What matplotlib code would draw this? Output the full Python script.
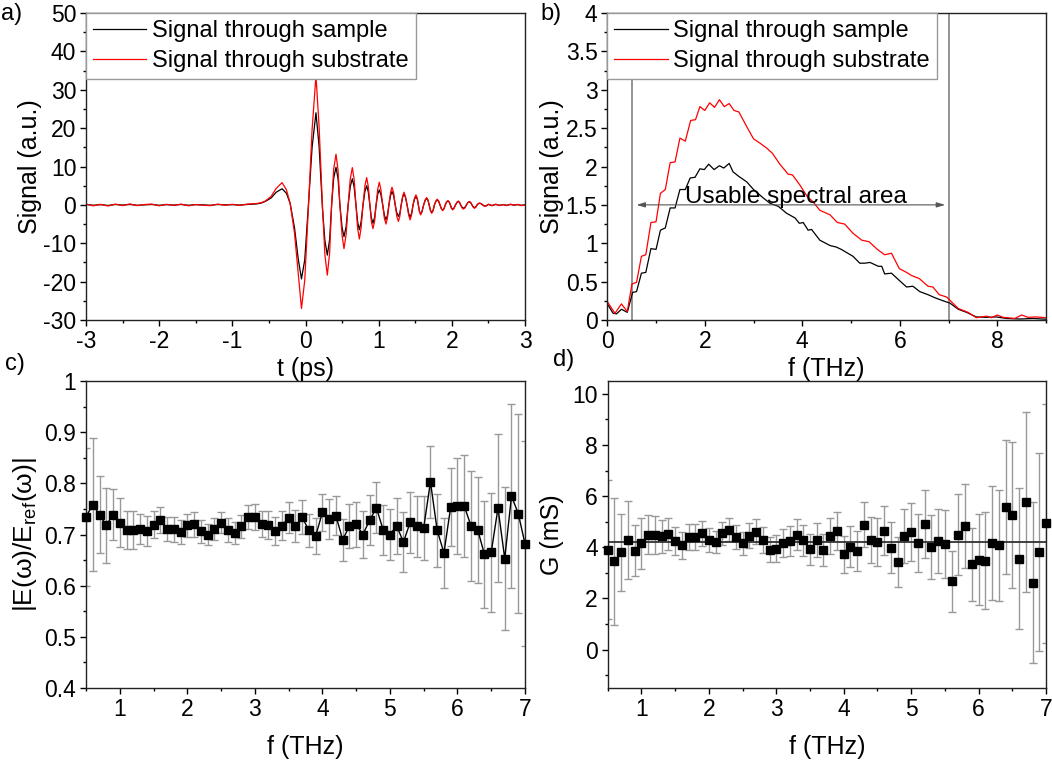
import numpy as np
import matplotlib
matplotlib.use("Agg")
import matplotlib.pyplot as plt
from matplotlib.ticker import MultipleLocator, FuncFormatter

plt.rcParams['font.family'] = ['Liberation Sans', 'DejaVu Sans']
plt.rcParams['mathtext.fontset'] = 'custom'
plt.rcParams['mathtext.rm'] = 'Liberation Sans'
plt.rcParams['mathtext.it'] = 'Liberation Sans:italic'

# ---------------- panel a: time-domain signals ----------------
t_noise_pre = [-3.0, -2.9, -2.8, -2.7, -2.6, -2.5, -2.4, -2.3, -2.2, -2.1, -2.0, -1.9,
               -1.8, -1.7, -1.6, -1.5, -1.4, -1.3, -1.2, -1.1, -1.0, -0.9, -0.8, -0.7, -0.65]
sample_pre = [0.1, -0.1, 0.05, -0.15, 0.1, -0.05, 0.1, -0.1, 0.0, 0.1, -0.1, 0.05,
              -0.05, 0.1, -0.1, 0.05, 0.0, -0.1, 0.1, 0.0, 0.05, -0.05, 0.1, 0.2, 0.3]
substrate_pre = [0.2, -0.25, 0.15, -0.3, 0.2, -0.2, 0.25, -0.2, 0.1, 0.2, -0.25, 0.15,
                 -0.15, 0.2, -0.25, 0.1, -0.1, -0.2, 0.2, -0.1, 0.15, -0.15, 0.2, 0.3, 0.4]

t_pulse = [-0.6, -0.55, -0.47, -0.40, -0.32, -0.26, -0.21, -0.15, -0.10, -0.055, -0.01,
           0.045, 0.09, 0.143, 0.186, 0.232, 0.265, 0.298, 0.33, 0.357, 0.385, 0.417,
           0.445, 0.47, 0.50, 0.526, 0.555, 0.583, 0.612, 0.64, 0.665, 0.69, 0.713,
           0.736, 0.76, 0.786, 0.812, 0.836, 0.858, 0.88, 0.90, 0.922, 0.945, 0.965,
           0.987, 1.009, 1.03, 1.055, 1.078, 1.10, 1.12, 1.14, 1.162, 1.182, 1.205,
           1.226, 1.248, 1.27, 1.29, 1.308, 1.328, 1.346, 1.366, 1.388, 1.41, 1.43,
           1.45, 1.47, 1.49, 1.51, 1.528, 1.542, 1.558, 1.574, 1.592, 1.615, 1.636,
           1.656, 1.674, 1.69, 1.708, 1.725, 1.744, 1.762, 1.782, 1.80, 1.82, 1.838,
           1.857, 1.875, 1.893, 1.91, 1.928, 1.947, 1.964, 1.98, 1.995, 2.01, 2.03,
           2.05, 2.07, 2.088, 2.105, 2.12, 2.14, 2.157, 2.18, 2.2, 2.22, 2.24, 2.258,
           2.275, 2.292, 2.31, 2.328, 2.345, 2.362, 2.38, 2.4, 2.42, 2.44, 2.46]
sample_pulse = [0.5, 0.9, 1.8, 3.3, 4.2, 3.0, 0.4, -6.0, -14.0, -19.3, -14.3,
                1.5, 15.0, 24.0, 15.2, -1.0, -9.3, -13.1, -9.0, 0.0, 6.9, 9.8,
                6.8, 0.0, -5.9, -8.3, -5.7, 0.0, 4.8, 6.8, 4.6, 0.0, -4.5,
                -6.5, -4.4, 0.0, 3.5, 5.0, 3.4, 0.0, -3.3, -4.8, -3.2, 0.0,
                2.8, 3.9, 2.7, 0.0, -2.7, -3.9, -2.7, 0.0, 2.4, 3.5, 2.4,
                0.0, -2.1, -3.0, -2.1, 0.0, 2.0, 2.9, 2.0, 0.0, -2.2, -3.2,
                -2.2, 0.0, 1.5, 2.2, 1.5, 0.0, -1.7, -2.4, -1.7, 0.0, 1.2,
                1.7, 1.2, 0.0, -1.4, -2.0, -1.4, 0.0, 0.9, 1.3, 0.9, 0.0,
                -1.0, -1.4, -1.0, 0.0, 0.7, 1.0, 0.7, 0.0, -0.8, -1.1, -0.8,
                0.0, 0.6, 0.9, 0.6, 0.0, -0.6, -0.9, -0.6, 0.0, 0.6, 0.8, 0.6,
                0.0, -0.5, -0.7, -0.5, 0.0, 0.3, 0.4, 0.3, 0.0, -0.2, -0.3]
substrate_pulse = [0.6, 1.0, 2.2, 4.3, 5.8, 3.9, 0.4, -7.4, -17.8, -27.0, -19.6,
                   1.3, 19.6, 33.7, 20.4, -0.4, -13.0, -18.3, -12.5, 0.0, 9.3, 13.2,
                   9.0, 0.0, -8.0, -11.4, -7.8, 0.0, 6.8, 9.7, 6.6, 0.0, -6.2,
                   -8.9, -6.0, 0.0, 5.0, 7.1, 4.8, 0.0, -4.3, -6.2, -4.2, 0.0,
                   4.1, 5.9, 4.0, 0.0, -3.5, -5.0, -3.4, 0.0, 3.2, 4.6, 3.1,
                   0.0, -3.0, -4.3, -2.9, 0.0, 2.3, 3.3, 2.2, 0.0, -2.7, -3.9,
                   -2.6, 0.0, 1.8, 2.6, 1.7, 0.0, -1.8, -2.6, -1.8, 0.0, 1.3,
                   1.9, 1.3, 0.0, -1.5, -2.2, -1.5, 0.0, 1.0, 1.5, 1.0, 0.0,
                   -1.0, -1.5, -1.0, 0.0, 0.8, 1.1, 0.8, 0.0, -0.9, -1.3, -0.9,
                   0.0, 0.7, 1.0, 0.7, 0.0, -0.8, -1.1, -0.8, 0.0, 0.6, 0.9, 0.6,
                   0.0, -0.6, -0.9, -0.6, 0.0, 0.35, 0.5, 0.35, 0.0, -0.3, -0.4]

t_noise_post = [2.5, 2.55, 2.6, 2.65, 2.7, 2.75, 2.8, 2.85, 2.9, 2.95, 3.0]
sample_post = [0.1, -0.15, 0.1, -0.1, 0.05, -0.1, 0.1, -0.05, 0.05, -0.1, 0.0]
substrate_post = [0.2, -0.25, 0.2, -0.2, 0.1, -0.2, 0.2, -0.1, 0.15, -0.2, 0.0]

t_ps = t_noise_pre + t_pulse + t_noise_post
sig_sample = sample_pre + sample_pulse + sample_post
sig_substrate = substrate_pre + substrate_pulse + substrate_post

# ---------------- panel b: spectra ----------------
f_sub = [0, 0.157, 0.29, 0.41, 0.506, 0.6, 0.70, 0.79, 0.895, 1.0, 1.09, 1.19, 1.29,
         1.39, 1.49, 1.6, 1.71, 1.81, 1.9, 2.0, 2.1, 2.2, 2.3, 2.4, 2.5, 2.6, 2.7,
         2.86, 3.0, 3.12, 3.27, 3.39, 3.54, 3.71, 3.8, 3.95, 4.1, 4.22, 4.36, 4.5,
         4.57, 4.72, 4.87, 5.04, 5.22, 5.37, 5.54, 5.69, 5.83, 5.99, 6.14, 6.24,
         6.4, 6.58, 6.68, 6.81, 6.96, 7.2, 7.4, 7.57, 7.78, 7.88, 8.0, 8.12, 8.36,
         8.5, 8.63, 8.8, 9.0]
spec_sub = [0.24, 0.087, 0.21, 0.11, 0.47, 0.49, 0.83, 0.85, 1.27, 1.28, 1.65, 1.70,
            2.05, 2.06, 2.37, 2.33, 2.6, 2.61, 2.78, 2.73, 2.83, 2.77, 2.87, 2.78,
            2.82, 2.73, 2.71, 2.52, 2.36, 2.31, 2.24, 2.17, 2.03, 1.90, 1.89, 1.76,
            1.61, 1.54, 1.43, 1.39, 1.37, 1.27, 1.25, 1.13, 1.04, 1.02, 0.92, 0.85,
            0.87, 0.67, 0.62, 0.58, 0.54, 0.44, 0.43, 0.33, 0.30, 0.15, 0.10, 0.03,
            0.05, 0.03, 0.065, 0.035, 0.02, 0.065, 0.035, 0.04, 0.03]

f_samp = [0, 0.12, 0.19, 0.29, 0.41, 0.52, 0.6, 0.70, 0.79, 0.895, 1.0, 1.09, 1.19,
          1.29, 1.39, 1.49, 1.6, 1.7, 1.8, 1.9, 1.99, 2.08, 2.19, 2.3, 2.39, 2.5,
          2.58, 2.7, 2.86, 3.0, 3.2, 3.34, 3.51, 3.68, 3.85, 3.94, 4.02, 4.12, 4.19,
          4.36, 4.57, 4.7, 4.8, 5.04, 5.18, 5.28, 5.39, 5.56, 5.63, 5.69, 5.83, 6.0,
          6.14, 6.27, 6.41, 6.58, 6.72, 6.89, 7.03, 7.2, 7.37, 7.57, 7.78, 7.98,
          8.19, 8.46, 8.74, 9.0]
spec_samp = [0.21, 0.087, 0.08, 0.14, 0.10, 0.36, 0.37, 0.61, 0.62, 0.93, 0.92, 1.17,
             1.20, 1.46, 1.46, 1.70, 1.70, 1.85, 1.86, 1.97, 1.96, 2.03, 1.96, 2.01,
             1.98, 2.04, 1.93, 1.87, 1.80, 1.70, 1.59, 1.52, 1.48, 1.39, 1.33, 1.26,
             1.27, 1.17, 1.18, 1.04, 0.97, 0.95, 0.92, 0.83, 0.74, 0.74, 0.75, 0.70,
             0.70, 0.60, 0.61, 0.51, 0.43, 0.44, 0.37, 0.33, 0.29, 0.25, 0.22, 0.14,
             0.10, 0.04, 0.035, 0.04, 0.02, 0.013, 0.02, 0.01]

band_lo, band_hi = 0.5, 7.0

# ---------------- panels c, d: extracted quantities ----------------
f_thz = [0.5, 0.6, 0.7, 0.8, 0.9, 1.0, 1.1, 1.2, 1.3, 1.4, 1.5, 1.6, 1.7, 1.8, 1.9,
         2.0, 2.1, 2.2, 2.3, 2.4, 2.5, 2.6, 2.7, 2.8, 2.9, 3.0, 3.1, 3.2, 3.3, 3.4,
         3.5, 3.6, 3.7, 3.8, 3.9, 4.0, 4.1, 4.2, 4.3, 4.4, 4.5, 4.6, 4.7, 4.8, 4.9,
         5.0, 5.1, 5.2, 5.3, 5.4, 5.5, 5.6, 5.7, 5.8, 5.9, 6.0, 6.1, 6.2, 6.3, 6.4,
         6.5, 6.6, 6.7, 6.8, 6.9, 7.0]
ratio = [0.735, 0.758, 0.739, 0.718, 0.739, 0.723, 0.708, 0.708, 0.711, 0.707, 0.719,
         0.728, 0.711, 0.710, 0.705, 0.718, 0.720, 0.706, 0.700, 0.711, 0.723, 0.709,
         0.703, 0.716, 0.734, 0.734, 0.721, 0.718, 0.707, 0.717, 0.733, 0.716, 0.734,
         0.708, 0.697, 0.743, 0.730, 0.737, 0.690, 0.716, 0.720, 0.700, 0.728, 0.752,
         0.709, 0.700, 0.717, 0.685, 0.724, 0.716, 0.713, 0.803, 0.708, 0.664, 0.754,
         0.756, 0.756, 0.717, 0.709, 0.661, 0.665, 0.752, 0.653, 0.775, 0.741, 0.682]
ratio_err = [0.135, 0.13, 0.075, 0.073, 0.05, 0.048, 0.037, 0.037, 0.03, 0.03, 0.026,
             0.026, 0.024, 0.024, 0.023, 0.023, 0.024, 0.022, 0.021, 0.022, 0.021,
             0.023, 0.022, 0.023, 0.024, 0.026, 0.025, 0.027, 0.028, 0.028, 0.03,
             0.031, 0.033, 0.032, 0.035, 0.037, 0.039, 0.038, 0.041, 0.043, 0.044,
             0.045, 0.049, 0.05, 0.049, 0.05, 0.055, 0.058, 0.06, 0.06, 0.063, 0.07,
             0.072, 0.069, 0.076, 0.094, 0.099, 0.107, 0.103, 0.105, 0.117, 0.145,
             0.139, 0.18, 0.195, 0.2]

G_mS = [3.91, 3.45, 3.81, 4.28, 3.86, 4.15, 4.50, 4.48, 4.43, 4.52, 4.24, 4.08, 4.41,
        4.41, 4.54, 4.28, 4.21, 4.54, 4.69, 4.41, 4.15, 4.45, 4.60, 4.28, 3.91, 3.95,
        4.18, 4.24, 4.50, 4.28, 3.92, 4.28, 3.89, 4.43, 4.64, 3.73, 4.02, 3.86, 4.89,
        4.28, 4.21, 4.64, 3.99, 3.43, 4.45, 4.60, 4.17, 4.92, 4.02, 4.24, 4.12, 2.67,
        4.50, 4.82, 3.34, 3.52, 3.47, 4.18, 4.08, 5.58, 5.25, 3.56, 5.76, 2.61, 3.81,
        4.93]
G_err = [2.73, 2.47, 1.5, 1.52, 1.0, 1.0, 0.78, 0.76, 0.65, 0.64, 0.54, 0.53, 0.5, 0.5,
         0.47, 0.48, 0.44, 0.46, 0.44, 0.47, 0.46, 0.49, 0.49, 0.51, 0.5, 0.53, 0.54,
         0.58, 0.59, 0.61, 0.61, 0.65, 0.64, 0.7, 0.75, 0.73, 0.8, 0.78, 0.87, 0.9,
         0.95, 0.96, 1.01, 0.98, 1.06, 1.14, 1.15, 1.33, 1.25, 1.26, 1.33, 1.2, 1.58,
         1.64, 1.43, 1.77, 1.89, 2.23, 2.16, 2.62, 2.86, 2.77, 3.52, 3.15, 3.88, 4.68]
G_mean = 4.21

# ---------------- figure ----------------
TICK_FS = 16.5
LABEL_FS = 18
LEG_FS = 17
fmt = FuncFormatter(lambda v, p: '%g' % round(v, 6))

fig = plt.figure(figsize=(10.52, 7.65), dpi=100)
W, H = 1052.0, 765.0

def make_ax(x0, x1, ytop, ybot):
    return fig.add_axes([x0 / W, 1 - ybot / H, (x1 - x0) / W, (ybot - ytop) / H])

ax_a = make_ax(86, 525, 13, 320)
ax_b = make_ax(607.3, 1046, 13, 320)
ax_c = make_ax(86, 525, 381, 688)
ax_d = make_ax(607.7, 1046, 381, 688)

for ax in (ax_a, ax_b, ax_c, ax_d):
    ax.tick_params(which='both', direction='out', top=False, right=False,
                   labelsize=TICK_FS, width=1.0, color='black', pad=3)
    ax.tick_params(which='major', length=4)
    ax.tick_params(which='minor', length=2.5)
    for s in ax.spines.values():
        s.set_linewidth(1.0)
        s.set_color('#222222')
    ax.xaxis.set_major_formatter(fmt)
    ax.yaxis.set_major_formatter(fmt)

# a
ax_a.plot(t_ps, sig_sample, color='black', lw=0.9, label='Signal through sample')
ax_a.plot(t_ps, sig_substrate, color='red', lw=0.9, label='Signal through substrate')
ax_a.set_xlim(-3, 3)
ax_a.set_ylim(-30, 50)
ax_a.xaxis.set_major_locator(MultipleLocator(1))
ax_a.xaxis.set_minor_locator(MultipleLocator(0.5))
ax_a.yaxis.set_major_locator(MultipleLocator(10))
ax_a.yaxis.set_minor_locator(MultipleLocator(5))
ax_a.set_xlabel('t (ps)', fontsize=LABEL_FS, labelpad=3)
ax_a.set_ylabel('Signal (a.u.)', fontsize=LABEL_FS, labelpad=1)

# b
ax_b.plot(f_samp, spec_samp, color='black', lw=0.9, label='Signal through sample')
ax_b.plot(f_sub, spec_sub, color='red', lw=0.9, label='Signal through substrate')
ax_b.axvline(band_lo, color='#777777', lw=1.1, zorder=1)
ax_b.axvline(band_hi, color='#777777', lw=1.1, zorder=1)
ax_b.annotate('', xy=(0.6, 1.5), xytext=(6.93, 1.5),
              arrowprops=dict(arrowstyle='<|-|>,head_length=0.5,head_width=0.15',
                              color='#555555', lw=0.8, shrinkA=0, shrinkB=0))
ax_b.text(3.88, 1.53, 'Usable spectral area', fontsize=17.5, ha='center', va='baseline')
ax_b.set_xlim(0, 9)
ax_b.set_ylim(0, 4)
ax_b.xaxis.set_major_locator(MultipleLocator(2))
ax_b.xaxis.set_minor_locator(MultipleLocator(1))
ax_b.yaxis.set_major_locator(MultipleLocator(0.5))
ax_b.yaxis.set_minor_locator(MultipleLocator(0.25))
ax_b.set_xlabel('f (THz)', fontsize=LABEL_FS, labelpad=3)
ax_b.set_ylabel('Signal (a.u.)', fontsize=LABEL_FS, labelpad=1)

for ax in (ax_a, ax_b):
    leg = ax.legend(loc='upper left', bbox_to_anchor=(0, 1), borderaxespad=0,
                    fontsize=LEG_FS, frameon=True, fancybox=False, framealpha=1,
                    edgecolor='#999999', handlelength=2.25, handletextpad=0.25,
                    labelspacing=0.33, borderpad=0.3)
    leg.get_frame().set_linewidth(1.0)
    leg.set_zorder(5)

# c
ax_c.errorbar(f_thz, ratio, yerr=ratio_err, fmt='none', ecolor='#999999',
              elinewidth=1.0, capsize=3, capthick=1.0, zorder=2)
ax_c.plot(f_thz, ratio, color='black', lw=1.0, marker='s', markersize=5.8,
          markerfacecolor='black', markeredgecolor='black', zorder=3, clip_on=False)
ax_c.set_xlim(0.5, 7)
ax_c.set_ylim(0.4, 1.0)
ax_c.xaxis.set_major_locator(MultipleLocator(1))
ax_c.xaxis.set_minor_locator(MultipleLocator(0.5))
ax_c.yaxis.set_major_locator(MultipleLocator(0.1))
ax_c.yaxis.set_minor_locator(MultipleLocator(0.05))
ax_c.set_xlabel('f (THz)', fontsize=LABEL_FS, labelpad=10)
ax_c.set_ylabel(r'|E(ω)/E$_\mathrm{ref}$(ω)|', fontsize=LABEL_FS + 1, labelpad=4)

# d
ax_d.errorbar(f_thz, G_mS, yerr=G_err, fmt='none', ecolor='#999999',
              elinewidth=1.0, capsize=3, capthick=1.0, zorder=2)
ax_d.plot(f_thz, G_mS, linestyle='none', marker='s', markersize=5.8,
          markerfacecolor='black', markeredgecolor='black', zorder=3, clip_on=False)
ax_d.axhline(G_mean, color='#333333', lw=1.3, zorder=2.5)
ax_d.set_xlim(0.5, 7)
ax_d.set_ylim(-1.5, 10.5)
ax_d.xaxis.set_major_locator(MultipleLocator(1))
ax_d.xaxis.set_minor_locator(MultipleLocator(0.5))
ax_d.yaxis.set_major_locator(MultipleLocator(2))
ax_d.yaxis.set_minor_locator(MultipleLocator(1))
ax_d.set_xlabel('f (THz)', fontsize=LABEL_FS, labelpad=10)
ax_d.set_ylabel('G (mS)', fontsize=LABEL_FS, labelpad=6)

# panel letters
fig.text(1 / W, 1 - 3 / H, 'a)', fontsize=LEG_FS, va='top', ha='left')
fig.text(540 / W, 1 - 3 / H, 'b)', fontsize=LEG_FS, va='top', ha='left')
fig.text(5 / W, 1 - 353 / H, 'c)', fontsize=LEG_FS, va='top', ha='left')
fig.text(553 / W, 1 - 349 / H, 'd)', fontsize=LEG_FS, va='top', ha='left')

fig.savefig('out.png', dpi=100)
